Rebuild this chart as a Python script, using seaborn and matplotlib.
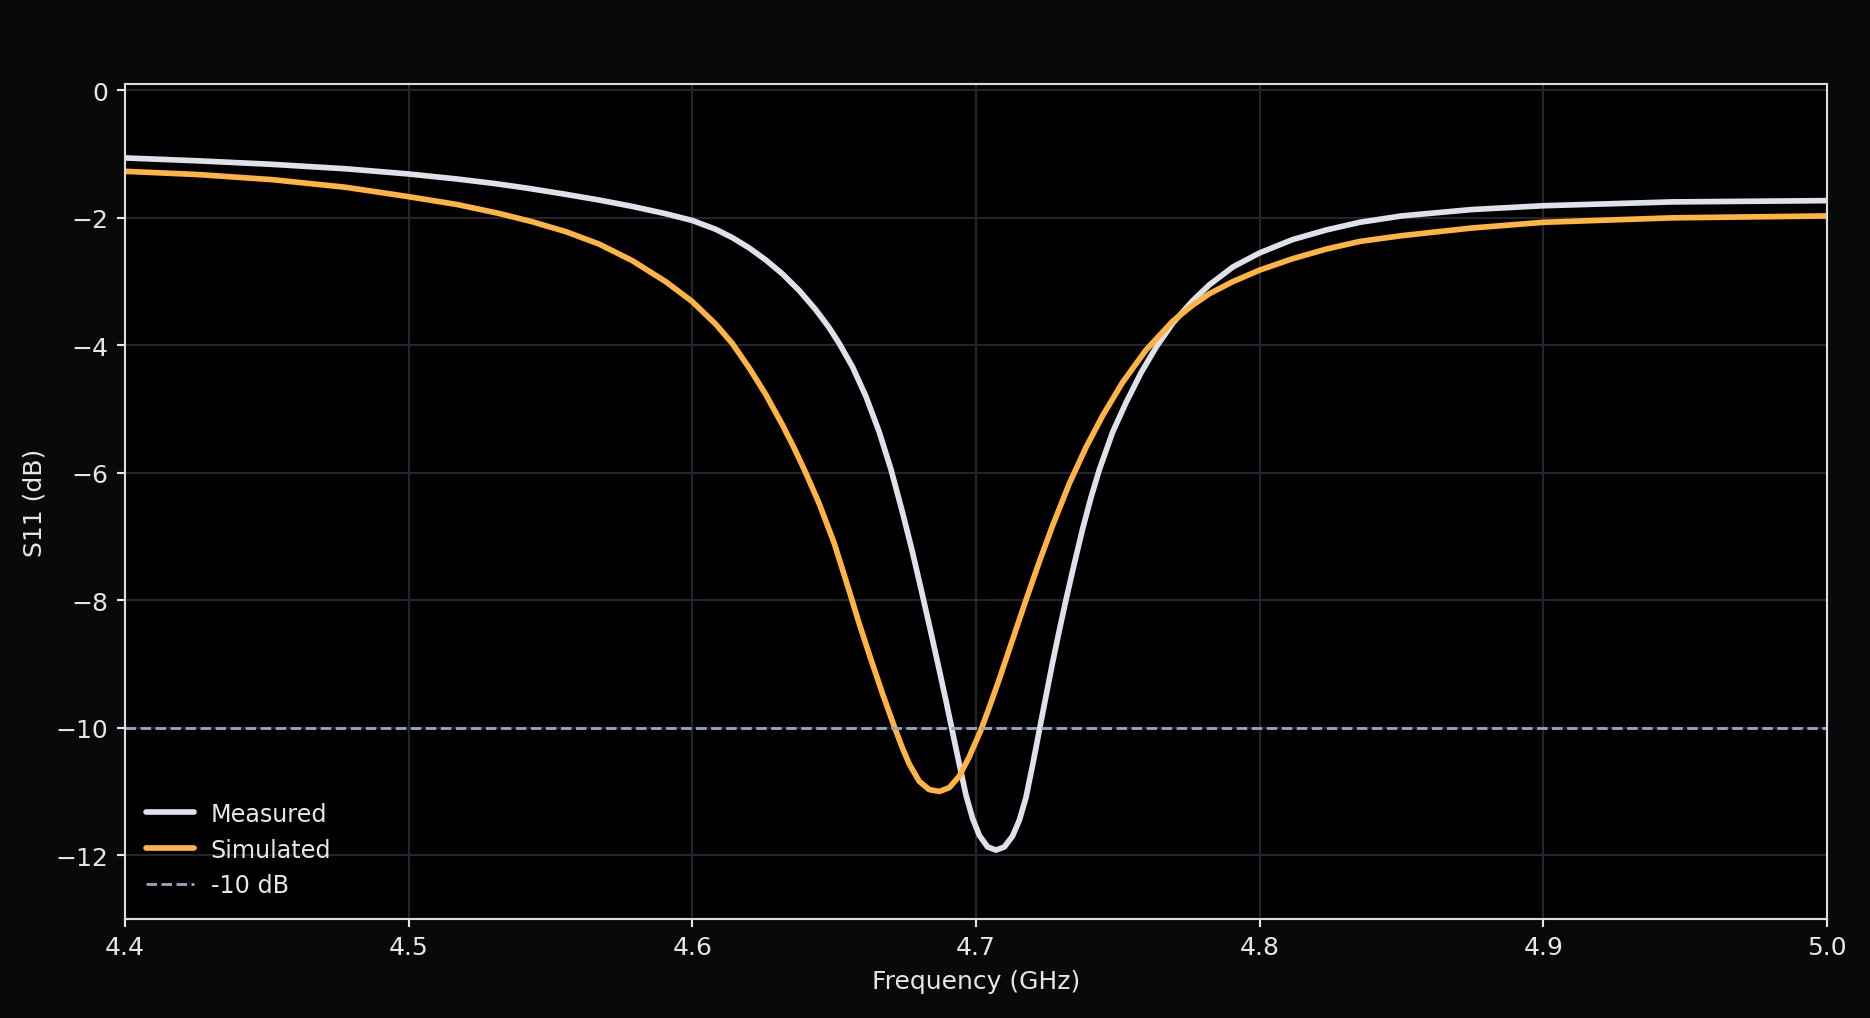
import numpy as np
import pandas as pd
import matplotlib
matplotlib.use("Agg")
import matplotlib.pyplot as plt
import seaborn as sns

# ---- data ----
freq_measured = [4.400, 4.4256, 4.4517, 4.4778, 4.4996, 4.5170, 4.5300, 4.5412, 4.5553, 4.5671,
                 4.5788, 4.5906, 4.5999, 4.6083, 4.6141, 4.6200, 4.6259, 4.6318, 4.6377, 4.6435,
                 4.6482, 4.6518, 4.6565, 4.6612, 4.6659, 4.6700, 4.6741, 4.6776, 4.6812, 4.6841,
                 4.6871, 4.6894, 4.6912, 4.6935, 4.6965, 4.6988, 4.7012, 4.7041, 4.7071, 4.7100,
                 4.7129, 4.7153, 4.7176, 4.7200, 4.7223, 4.7247, 4.7270, 4.7294, 4.7318, 4.7347,
                 4.7376, 4.7406, 4.7435, 4.7482, 4.7529, 4.7582, 4.7635, 4.7694, 4.7764, 4.7823,
                 4.7906, 4.8000, 4.8117, 4.8235, 4.8353, 4.8500, 4.8747, 4.9000, 4.9453, 5.0000]
s11_measured = [-1.06, -1.105, -1.16, -1.23, -1.31, -1.39, -1.46, -1.53, -1.63, -1.72,
                -1.82, -1.935, -2.04, -2.18, -2.31, -2.47, -2.66, -2.88, -3.14, -3.44,
                -3.72, -3.97, -4.34, -4.80, -5.36, -5.94, -6.62, -7.24, -7.93, -8.50,
                -9.10, -9.57, -9.95, -10.44, -11.06, -11.42, -11.69, -11.87, -11.92, -11.87,
                -11.70, -11.45, -11.10, -10.58, -10.05, -9.50, -8.98, -8.47, -7.98, -7.42,
                -6.88, -6.38, -5.95, -5.36, -4.90, -4.43, -4.03, -3.65, -3.30, -3.05,
                -2.77, -2.55, -2.34, -2.19, -2.07, -1.97, -1.87, -1.81, -1.75, -1.73]

freq_simulated = [4.400, 4.4256, 4.4517, 4.4778, 4.4996, 4.5170, 4.5318, 4.5435, 4.5553, 4.5671,
                  4.5788, 4.5906, 4.5999, 4.6083, 4.6141, 4.6200, 4.6259, 4.6318, 4.6359, 4.6400,
                  4.6447, 4.6500, 4.6553, 4.6588, 4.6624, 4.6671, 4.6712, 4.6741, 4.6765, 4.6800,
                  4.6835, 4.6871, 4.6906, 4.6941, 4.6976, 4.7018, 4.7047, 4.7082, 4.7129, 4.7176,
                  4.7223, 4.7270, 4.7329, 4.7388, 4.7447, 4.7517, 4.7600, 4.7694, 4.7764, 4.7823,
                  4.7906, 4.8000, 4.8117, 4.8235, 4.8353, 4.8500, 4.8747, 4.9000, 4.9453, 5.0000]
s11_simulated = [-1.27, -1.32, -1.40, -1.52, -1.665, -1.79, -1.93, -2.06, -2.215, -2.41,
                 -2.67, -3.00, -3.31, -3.67, -3.97, -4.35, -4.77, -5.25, -5.61, -6.00,
                 -6.48, -7.10, -7.85, -8.36, -8.85, -9.47, -9.98, -10.32, -10.57, -10.84,
                 -10.97, -11.00, -10.94, -10.76, -10.46, -10.03, -9.68, -9.24, -8.62, -8.00,
                 -7.40, -6.83, -6.17, -5.60, -5.10, -4.58, -4.07, -3.62, -3.37, -3.19,
                 -3.00, -2.82, -2.64, -2.49, -2.37, -2.28, -2.16, -2.07, -2.00, -1.97]

series_names = ["Measured", "Simulated"]
threshold_db = -10
threshold_label = "-10 dB"
x_ticks = [4.4, 4.5, 4.6, 4.7, 4.8, 4.9, 5.0]
y_ticks = [0, -2, -4, -6, -8, -10, -12]

# ---- style ----
FIG_BG = "#08090b"
AX_BG = "#000000"
GRID = "#22252b"
FG = "#e6e6e6"
SPINE = "#dcdcdc"
C_MEAS = "#dde1ea"
C_SIM = "#ffb340"
C_THR = "#94a6bc"

sns.set_theme(style="darkgrid")
plt.rcParams.update({
    "font.family": ["DejaVu Sans"],
    "font.size": 10.6,
    "axes.facecolor": AX_BG,
    "figure.facecolor": FIG_BG,
    "axes.edgecolor": SPINE,
    "grid.color": GRID,
    "grid.linewidth": 0.9,
    "text.color": FG,
    "axes.labelcolor": FG,
    "xtick.color": FG,
    "ytick.color": FG,
    "lines.solid_capstyle": "round",
    "lines.solid_joinstyle": "round",
})

df = pd.concat([
    pd.DataFrame({"freq": freq_measured, "s11": s11_measured, "series": series_names[0]}),
    pd.DataFrame({"freq": freq_simulated, "s11": s11_simulated, "series": series_names[1]}),
], ignore_index=True)

fig = plt.figure(figsize=(11, 5.994), dpi=170)
ax = fig.add_axes([0.0668, 0.0972, 0.9102, 0.8194])
ax.set_facecolor(AX_BG)

sns.lineplot(data=df, x="freq", y="s11", hue="series", palette=[C_MEAS, C_SIM],
             linewidth=2.4, ax=ax, sort=True, estimator=None)
ax.axhline(threshold_db, color=C_THR, linestyle="--", linewidth=1.2, label=threshold_label)

ax.set_xlim(4.4, 5.0)
ax.set_ylim(-13, 0.1)
ax.set_xticks(x_ticks)
ax.set_xticklabels([f"{t:.1f}" for t in x_ticks])
ax.set_yticks(y_ticks)
ax.set_xlabel("Frequency (GHz)", fontsize=10.6)
ax.set_ylabel("S11 (dB)", fontsize=10.6)
ax.tick_params(axis="both", which="major", labelsize=10.6, length=3.5, width=0.9,
               colors=FG, bottom=True, left=True)
ax.grid(True, color=GRID, linewidth=0.9)
for s in ax.spines.values():
    s.set_visible(True)
    s.set_color(SPINE)
    s.set_linewidth(0.9)

handles, labels = ax.get_legend_handles_labels()
leg = ax.legend(handles=handles, labels=labels, loc="lower left", frameon=False,
                fontsize=10.1, handletextpad=0.7)
for t in leg.get_texts():
    t.set_color(FG)

fig.savefig("out.png", dpi=170, facecolor=FIG_BG)
